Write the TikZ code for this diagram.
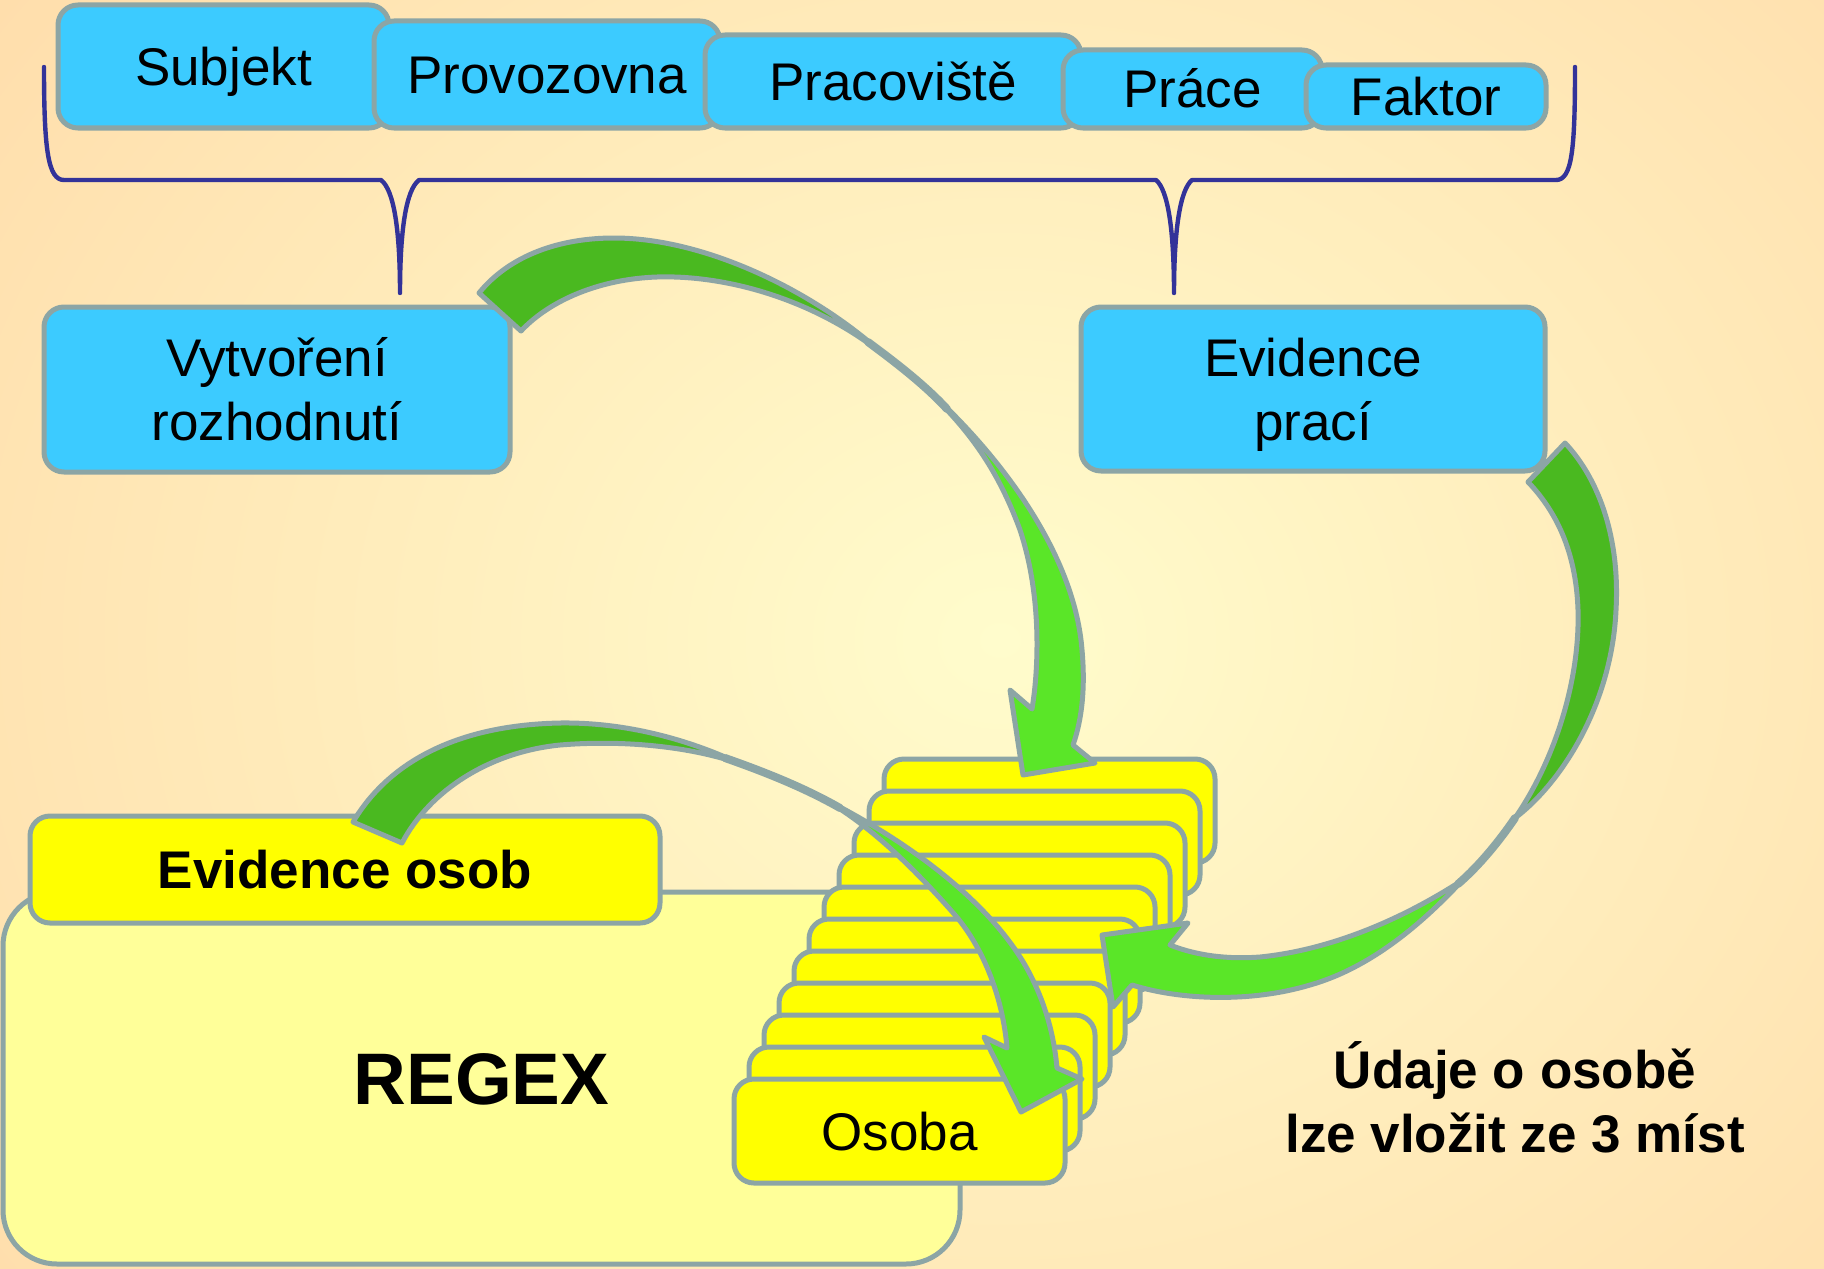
\documentclass[tikz,border=0pt]{standalone}
\usepackage{fontspec}
\setmainfont{Liberation Sans}
\definecolor{bgin}{HTML}{FFFCCC}
\definecolor{bgout}{HTML}{FFCC99}
\definecolor{cyanbox}{HTML}{3CCBFF}
\definecolor{edgegray}{HTML}{8CA5A5}
\definecolor{cardyellow}{HTML}{FFFF00}
\definecolor{regexfill}{HTML}{FFFF99}
\definecolor{greendark}{HTML}{4AB920}
\definecolor{greenlight}{HTML}{5AE628}
\definecolor{bracenavy}{HTML}{333399}
\begin{document}
\begin{tikzpicture}[x=0.5pt,y=-0.5pt,
  boxbase/.style={draw=edgegray, line width=2.5pt, rounded corners=10pt, inner sep=0pt, align=center},
  oneline/.style={text height=19pt, text depth=0pt},
  twoline/.style={text height=51pt, text depth=0pt},
  tabbox/.style={boxbase, oneline, fill=cyanbox, font=\fontsize{26.5}{32}\selectfont},
  bluebox/.style={boxbase, twoline, fill=cyanbox, font=\fontsize{26.5}{32}\selectfont},
  cardbox/.style={boxbase, oneline, fill=cardyellow, minimum width=165.5pt, minimum height=52pt, font=\fontsize{26.5}{32}\selectfont},
  arrowback/.style={fill=greendark, draw=edgegray, line width=2.5pt, line join=round},
  arrowfront/.style={fill=greenlight, draw=edgegray, line width=2.5pt, line join=round},
  pinch/.style={draw=edgegray, line width=4pt, line cap=round},
  bracket/.style={draw=bracenavy, line width=2.2pt, line cap=round, line join=round},
]
% background
\useasboundingbox (0,0) rectangle (1824,1268);
\fill[bgout] (0,0) rectangle (1824,1268);
\begin{scope}
  \clip (0,0) rectangle (1824,1268);
  \shade[inner color=bgin, outer color=bgout] (-1000,-1060) rectangle (3000,2340);
\end{scope}

% brace
\draw[bracket] (44,67) .. controls (44,150) and (48,180) .. (64,180) -- (381,180)
  .. controls (394,190) and (400,230) .. (400,293)
  .. controls (400,230) and (406,190) .. (419,180) -- (1156,180)
  .. controls (1168,190) and (1174,230) .. (1174,293)
  .. controls (1174,230) and (1180,190) .. (1192,180) -- (1556,180)
  .. controls (1572,180) and (1575,150) .. (1575,67);

% tabs
\node[tabbox, minimum width=165.5pt, minimum height=61.5pt] (subjekt) at (223.5,66.5) {Subjekt};
\node[tabbox, minimum width=173pt, minimum height=53.5pt] (provozovna) at (547,74.5) {Provozovna};
\node[tabbox, minimum width=188pt, minimum height=46.5pt] (pracoviste) at (893,81.5) {Pracoviště};
\node[tabbox, minimum width=129.5pt, minimum height=39pt] (prace) at (1192.5,89) {Práce};
\node[tabbox, minimum width=120pt, minimum height=31.5pt] (faktor) at (1426,96.5) {Faktor};

% blue boxes
\node[bluebox, minimum width=233pt, minimum height=82.5pt] (vytvoreni) at (277,389.5) {Vytvoření\\rozhodnutí};
\node[bluebox, minimum width=232pt, minimum height=82pt] (evprace) at (1313,389) {Evidence\\prací};

% REGEX
\node[boxbase, fill=regexfill, rounded corners=27pt, minimum width=478.5pt, minimum height=186pt,
  text height=26pt, text depth=0pt,
  font=\fontsize{36.5}{44}\selectfont\bfseries] (regex) at (481.5,1078) {REGEX};
\node[boxbase, oneline, fill=cardyellow, minimum width=315pt, minimum height=53.5pt,
  font=\fontsize{26.5}{32}\selectfont\bfseries] (evosob) at (345,869.5) {Evidence osob};

% stack of cards
\foreach \k in {0,...,9} {
  \node[cardbox] (card\k) at ({1049.5-15*\k},{811+32*\k}) {};
}
\node[cardbox] (osoba) at (899.5,1131) {Osoba};

% note
\node[twoline, font=\fontsize{26.5}{32}\selectfont\bfseries, align=center] (udaje) at (1515,1101) {Údaje o osobě\\lze vložit ze 3 míst};

% arrow 1: Vytvoreni -> top card
\draw[pinch] (868,342) .. controls (895,362) and (925,385) .. (947,409);
\path[arrowback] (479,293) .. controls (510,255) and (560,238) .. (614,238)
  .. controls (700,238) and (800,285) .. (868,341)
  -- (868,343) .. controls (800,295) and (720,275) .. (657,277)
  .. controls (600,279) and (550,300) .. (521,331) -- cycle;
\path[arrowfront] (947,408) .. controls (1010,470) and (1075,560) .. (1082,650)
  .. controls (1086,695) and (1080,725) .. (1073,745)
  -- (1095,763) -- (1023,775) -- (1010,690) -- (1032,709)
  .. controls (1040,660) and (1040,590) .. (1020,530)
  .. controls (1000,475) and (975,440) .. (947,410) -- cycle;

% arrow 2: Evidence praci -> stack
\draw[pinch] (1515,818) .. controls (1500,840) and (1480,865) .. (1458,884);
\path[arrowback] (1565,443) .. controls (1600,480) and (1620,540) .. (1616,610)
  .. controls (1612,700) and (1565,780) .. (1515,818)
  .. controls (1555,760) and (1580,680) .. (1578,610)
  .. controls (1576,550) and (1555,510) .. (1528,482) -- cycle;
\path[arrowfront] (1458,883) .. controls (1400,920) and (1330,950) .. (1260,957)
  .. controls (1220,960) and (1190,953) .. (1170,945)
  -- (1188,923) -- (1102,935) -- (1113,1007) -- (1132,985)
  .. controls (1180,1000) and (1250,1003) .. (1310,985)
  .. controls (1370,968) and (1420,925) .. (1458,885) -- cycle;

% arrow 3: Evidence osob -> Osoba
\draw[pinch] (725,758) .. controls (765,772) and (805,788) .. (840,808);
\path[arrowback] (353,822) .. controls (390,760) and (460,725) .. (560,723)
  .. controls (630,722) and (690,742) .. (725,757)
  -- (725,759) .. controls (680,746) and (620,740) .. (560,745)
  .. controls (490,752) and (430,790) .. (402,843) -- cycle;
\path[arrowfront] (840,807) .. controls (920,850) and (990,905) .. (1025,965)
  .. controls (1045,1000) and (1054,1035) .. (1057,1068)
  -- (1082,1079) -- (1021,1112) -- (984,1037) -- (1007,1048)
  .. controls (1003,1000) and (985,950) .. (955,915)
  .. controls (920,875) and (880,835) .. (840,809) -- cycle;
\end{tikzpicture}
\end{document}
